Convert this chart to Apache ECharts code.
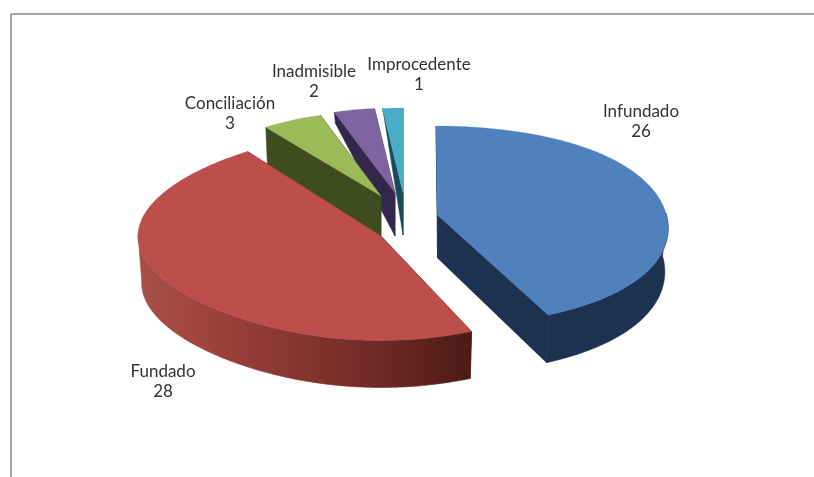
<!DOCTYPE html>
<html><head><meta charset="utf-8">
<style>html,body{margin:0;padding:0;background:#fff}#c{width:814px;height:477px}#c canvas{filter:blur(.4px)}</style>
<script src="https://cdn.jsdelivr.net/npm/echarts@6/dist/echarts.min.js"></script>
</head><body><div id="c"></div>
<script>
const categories = ['Infundado','Fundado','Conciliación','Inadmisible','Improcedente'];
const values = [26,28,3,2,1];
const topColors = ['#4f81bd','#bc4e4b','#9bbb59','#8064a2','#4bacc6'];
const wallColors = ['#1c3250','#7a2e2a','#3f4c20','#33284c','#1a4a57'];

// Per-slice projection of the exploded 3D pie (anchor, radii, perspective, wall depth)
const geom = [
  {ax:437.5,ay:215,R:229,k:98.6,p:.108,q:-.07,h:43,sh:-1.5,far:[0,null],z:5,lx:641,ly:122},
  {ax:381,ay:236,R:243,k:104.5,p:0,q:.1,h:47,sh:0,far:[null,null],z:4,lx:163,ly:382},
  {ax:381,ay:196,R:196,k:85,p:0,q:0,h:41,sh:0,far:[40,null],z:3,lx:230,ly:114},
  {ax:395,ay:193,R:196,k:85,p:0,q:0,h:43,sh:0,far:[11,null],z:2,lx:314,ly:82},
  {ax:403,ay:193,R:196,k:85,p:0,q:0,h:42,sh:0,far:[0,null],z:1,lx:419,ly:75}
];
const total = values.reduce((a,b)=>a+b,0);

function pt(g,deg){
  const t=deg*Math.PI/180,X=Math.sin(t),Y=Math.cos(t),w=1+g.p*Y;
  return {x:g.ax+g.R*X*(1-g.q*Y*Y)/w+g.sh*Y,y:g.ay-g.k*Y/w,Y,d:g.h/w};
}
function low(g,P,d){return [P.x+(g.ax-P.x)*.015,P.y+(d==null?P.d:d)];}

function renderItem(params,api){
  const i=params.dataIndex,g=geom[i];
  let start=0;for(let j=0;j<i;j++)start+=values[j];
  const a0=start/total*360,a1=(start+api.value(1))/total*360;
  const arc=[];for(let a=a0;a<a1;a+=1)arc.push(a);arc.push(a1);
  const A=[g.ax,g.ay],Ab=[g.ax,g.ay+g.h];
  const children=[];
  const poly=(points,fill,lw)=>children.push({type:'polygon',z2:g.z*10+children.length,
    shape:{points},style:{fill,stroke:fill,lineWidth:lw},silent:true});
  [[a0,g.far[0]],[a1,g.far[1]]].forEach(([a,hf])=>{
    const P=pt(g,a);
    poly([A,[P.x,P.y],low(g,P,hf),Ab],wallColors[i],.6);
  });
  const near=arc.map(a=>pt(g,a)).filter(P=>P.Y<=.03);
  if(near.length>1){
    const up=near.map(P=>[P.x,P.y]),dn=near.map(P=>low(g,P)).reverse();
    let fill=wallColors[i];
    if(i===1) fill=new echarts.graphic.LinearGradient(140,0,470,0,[
      {offset:0,color:'#a84f4b'},{offset:.18,color:'#a0443f'},{offset:.45,color:'#8a3631'},
      {offset:.72,color:'#6f2a27'},{offset:1,color:'#4e1a15'}],true);
    poly(up.concat(dn),fill,.6);
  }
  poly([A].concat(arc.map(a=>{const P=pt(g,a);return [P.x,P.y];})),topColors[i],.3);
  children.push({type:'text',z2:500,silent:true,style:{
    x:g.lx,y:g.ly,text:categories[i]+'\n'+api.value(1),fill:'#333',
    font:'17px Lato',align:'center',verticalAlign:'middle',lineHeight:20}});
  return {type:'group',children};
}

const chart=echarts.init(document.getElementById('c'),null,{renderer:'canvas'});
chart.setOption({
  animation:false,
  backgroundColor:'#fff',
  graphic:[
    {type:'line',shape:{x1:11,y1:14,x2:814,y2:14},style:{stroke:'#8a8a8a',lineWidth:1.5}},
    {type:'line',shape:{x1:11,y1:14,x2:11,y2:477},style:{stroke:'#8a8a8a',lineWidth:1.5}}
  ],
  series:[{type:'custom',coordinateSystem:'none',renderItem,
    data:values.map((v,i)=>[i,v])}]
});
</script></body></html>
